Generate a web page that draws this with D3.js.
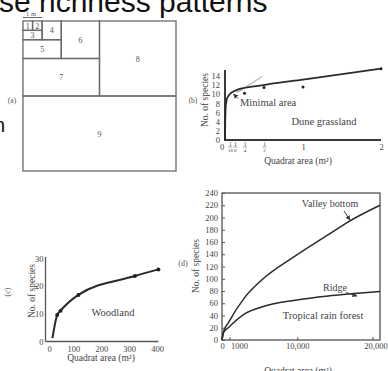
<!DOCTYPE html>
<html><head><meta charset="utf-8">
<script src="https://cdn.jsdelivr.net/npm/d3@7"></script>
<style>html,body{margin:0;padding:0;background:#fff;overflow:hidden}svg{display:block}</style>
</head><body>
<svg id="c" width="388" height="371"></svg>
<script>
// ---------- data ----------
const titleText = "se richness patterns";
const sideText = "n";

const quadratIds = [1, 2, 3, 4, 5, 6, 7, 8, 9];
const quadratX = [0, 1, 0, 2, 0, 4, 0, 8, 0];
const quadratY = [0, 0, 1, 0, 2, 0, 4, 0, 8];
const quadratW = [1, 1, 2, 2, 4, 4, 8, 8, 16];
const quadratH = [1, 1, 1, 2, 2, 4, 4, 8, 8];

const duneCurveArea = [0, 0.003, 0.01, 0.025, 0.06, 0.15, 0.37, 0.6, 1, 2];
const duneCurveSpecies = [0, 4, 7.5, 9, 10, 10.9, 11.7, 12.3, 13.2, 15.6];
const duneDotArea = [0.25, 0.5, 1, 2];
const duneDotSpecies = [10.2, 11.5, 11.6, 15.6];
const duneTangentArea = [0.155, 0.48];
const duneTangentSpecies = [10.4, 13.9];
const duneYTicks = [0, 2, 4, 6, 8, 10, 12, 14];
const duneXTicks = [0, 0.0625, 0.125, 0.25, 0.5, 1, 2];
const duneXLabels = ["0", "1/16", "1/8", "1/4", "1/2", "1", "2"];

const woodCurveArea = [25, 42, 54, 118, 321, 405];
const woodCurveSpecies = [1.2, 9.6, 11.1, 16.8, 23.6, 26];
const woodDotArea = [42, 54, 118, 321, 405];
const woodDotSpecies = [9.6, 11.1, 16.8, 23.6, 26];
const woodXTicks = [0, 100, 200, 300, 400];
const woodYTicks = [0, 10, 20, 30];

const rfArea = [0, 200, 837, 3057, 5272, 9702, 14130, 16790, 21000];
const valleySpecies = [0, 13, 28, 70, 98, 137, 172, 193, 220];
const ridgeSpecies = [0, 12, 20, 43, 54, 65, 72, 75, 79];
const rfYTicks = [0, 20, 40, 60, 80, 100, 120, 140, 160, 180, 200, 220, 240];
const rfXTicks = [0, 1000, 10000, 20000];
const rfXLabels = ["0", "1000", "10,000", "20,000"];

// ---------- drawing ----------
const svg = d3.select("#c");
const SERIF = "'Liberation Serif','DejaVu Serif',serif";
const INK = "#3a3a3a";
const TXT = "#444";

svg.append("defs").append("marker")
  .attr("id", "arr").attr("viewBox", "0 0 10 10").attr("refX", 9).attr("refY", 5)
  .attr("markerWidth", 5).attr("markerHeight", 5).attr("orient", "auto")
  .append("path").attr("d", "M0,0 L10,5 L0,10 z").attr("fill", INK);

function txt(x, y, s, size, opts = {}) {
  const t = svg.append("text").attr("x", x).attr("y", y).text(s)
    .attr("font-family", opts.family || SERIF).attr("font-size", size)
    .attr("fill", opts.fill || TXT).attr("text-anchor", opts.anchor || "middle");
  if (opts.rotate) t.attr("transform", `rotate(-90,${x},${y})`);
  return t;
}

// title fragment (cut off at top) and side fragment
txt(-1, 11.5, titleText, 30, {family: "'Liberation Sans',Arial,sans-serif", fill: "#111", anchor: "start"});
txt(5, 132, sideText, 20, {family: "'Liberation Sans',Arial,sans-serif", fill: "#111", anchor: "end"});

// ---- (a) quadrats ----
const qx = d3.scaleLinear([0, 16], [23, 176]);
const qy = d3.scaleLinear([0, 16], [21, 171]);
const qa = svg.append("g");
quadratIds.forEach((id, i) => {
  qa.append("rect")
    .attr("x", qx(quadratX[i])).attr("y", qy(quadratY[i]))
    .attr("width", qx(quadratW[i]) - qx(0)).attr("height", qy(quadratH[i]) - qy(0))
    .attr("fill", "none").attr("stroke", "#6a6a6a").attr("stroke-width", 1.3);
});
quadratIds.forEach((id, i) => {
  txt(qx(quadratX[i] + quadratW[i] / 2), qy(quadratY[i] + quadratH[i] / 2) + 3, String(id), 8, {fill: "#555"});
});
qa.append("line").attr("x1", qx(0)).attr("x2", qx(2)).attr("y1", 17.5).attr("y2", 17.5)
  .attr("stroke", "#666").attr("stroke-width", 1);
txt(31, 15.5, "1 m", 6.5, {fill: "#555"});
txt(12, 103, "(a)", 7.5, {fill: "#555"});

// ---- (b) dune grassland ----
const bx = d3.scaleLinear([0, 2], [225, 381]);
const by = d3.scaleLinear([0, 15.3], [140, 70]);
const gb = svg.append("g");
gb.append("line").attr("x1", bx(0)).attr("x2", bx(0)).attr("y1", by(0)).attr("y2", by(15.3))
  .attr("stroke", INK).attr("stroke-width", 2);
gb.append("line").attr("x1", bx(0) - 1).attr("x2", bx(2)).attr("y1", by(0)).attr("y2", by(0))
  .attr("stroke", INK).attr("stroke-width", 2);
const bya = gb.append("g").attr("transform", `translate(${bx(0)},0)`)
  .call(d3.axisLeft(by).tickValues(duneYTicks).tickSize(0).tickPadding(5));
bya.select(".domain").remove();
bya.selectAll("text").attr("font-family", SERIF).attr("font-size", 8.5).attr("fill", TXT);
const bxa = gb.append("g").attr("transform", `translate(0,${by(0)})`)
  .call(d3.axisBottom(bx).tickValues(duneXTicks).tickSize(0).tickPadding(4)
    .tickFormat((d, i) => duneXLabels[i]));
bxa.select(".domain").remove();
bxa.selectAll(".tick").each(function (d, i) {
  const lab = duneXLabels[i];
  const t = d3.select(this).select("text");
  t.attr("font-family", SERIF).attr("font-size", 8.5).attr("fill", TXT);
  if (lab === "0") t.attr("x", -3.5);
  if (lab.includes("/")) {
    t.remove();
    const [n, dd] = lab.split("/");
    const g = d3.select(this);
    g.append("text").attr("y", 5.8).attr("text-anchor", "middle").text(n)
      .attr("font-family", SERIF).attr("font-size", 5.5).attr("fill", TXT);
    g.append("line").attr("x1", -2).attr("x2", 2).attr("y1", 7).attr("y2", 7)
      .attr("stroke", TXT).attr("stroke-width", 0.5);
    g.append("text").attr("y", 11.8).attr("text-anchor", "middle").text(dd)
      .attr("font-family", SERIF).attr("font-size", 5).attr("fill", TXT);
  }
});
// tangent
gb.append("line")
  .attr("x1", bx(duneTangentArea[0])).attr("y1", by(duneTangentSpecies[0]))
  .attr("x2", bx(duneTangentArea[1])).attr("y2", by(duneTangentSpecies[1]))
  .attr("stroke", "#aaa").attr("stroke-width", 1.1);
// curve
gb.append("path")
  .attr("d", d3.line().x(d => bx(d[0])).y(d => by(d[1])).curve(d3.curveMonotoneX)(d3.zip(duneCurveArea, duneCurveSpecies)))
  .attr("fill", "none").attr("stroke", "#2a2a2a").attr("stroke-width", 1.8);
gb.selectAll("circle.dot").data(d3.zip(duneDotArea, duneDotSpecies)).join("circle")
  .attr("cx", d => bx(d[0])).attr("cy", d => by(d[1])).attr("r", 1.5).attr("fill", "#222");
// arrow
gb.append("line").attr("x1", 238).attr("y1", 98.5).attr("x2", 233.5).attr("y2", 94)
  .attr("stroke", INK).attr("stroke-width", 1).attr("marker-end", "url(#arr)");
txt(240, 105.5, "Minimal area", 10.5, {anchor: "start"});
txt(324, 125, "Dune grassland", 10.5);
txt(298, 164, "Quadrat area (m²)", 9.5);
txt(207.5, 100, "No. of species", 9.5, {rotate: true});
txt(193, 103, "(b)", 7.5, {fill: "#555"});

// ---- (c) woodland ----
const cx = d3.scaleLinear([0, 400], [45.5, 157]);
const cy = d3.scaleLinear([0, 30], [341.5, 258.3]);
const gc = svg.append("g");
gc.append("line").attr("x1", cx(0)).attr("x2", cx(0)).attr("y1", cy(0)).attr("y2", cy(30.5))
  .attr("stroke", "#555").attr("stroke-width", 1.3);
gc.append("line").attr("x1", cx(0)).attr("x2", cx(405)).attr("y1", cy(0)).attr("y2", cy(0))
  .attr("stroke", "#555").attr("stroke-width", 1.3);
const cya = gc.append("g").attr("transform", `translate(${cx(0)},0)`)
  .call(d3.axisLeft(cy).tickValues(woodYTicks).tickSize(0).tickPadding(2));
cya.select(".domain").remove();
cya.selectAll("text").attr("font-family", SERIF).attr("font-size", 8.5).attr("fill", TXT);
const cxa = gc.append("g").attr("transform", `translate(0,${cy(0)})`)
  .call(d3.axisBottom(cx).tickValues(woodXTicks).tickSize(0).tickPadding(4));
cxa.select(".domain").remove();
cxa.selectAll("text").attr("font-family", SERIF).attr("font-size", 8.5).attr("fill", TXT);
cxa.selectAll(".tick").filter(d => d === 0).select("text").attr("x", 3.5);
gc.append("path")
  .attr("d", d3.line().x(d => cx(d[0])).y(d => cy(d[1])).curve(d3.curveMonotoneX)(d3.zip(woodCurveArea, woodCurveSpecies)))
  .attr("fill", "none").attr("stroke", "#2a2a2a").attr("stroke-width", 2);
gc.selectAll("circle.dot").data(d3.zip(woodDotArea, woodDotSpecies)).join("circle")
  .attr("cx", d => cx(d[0])).attr("cy", d => cy(d[1])).attr("r", 2).attr("fill", "#222");
txt(113, 316, "Woodland", 10.5);
txt(101, 361, "Quadrat area (m²)", 9.5);
txt(34.5, 291, "No. of species", 9.5, {rotate: true});
txt(10, 292, "(c)", 8, {rotate: true, fill: "#555"});

// ---- (d) tropical rain forest ----
const dx = d3.scaleLinear([0, 21000], [222, 380]);
const dy = d3.scaleLinear([0, 240], [340, 193]);
const gd = svg.append("g");
gd.append("rect").attr("x", dx(0)).attr("y", dy(240)).attr("width", dx(21000) - dx(0))
  .attr("height", dy(0) - dy(240)).attr("fill", "none").attr("stroke", "#444").attr("stroke-width", 1.2);
const dya = gd.append("g").attr("transform", `translate(${dx(0)},0)`)
  .call(d3.axisLeft(dy).tickValues(rfYTicks).tickSize(-3).tickPadding(4));
dya.select(".domain").remove();
dya.selectAll("line").attr("stroke", "#555");
dya.selectAll("text").attr("font-family", SERIF).attr("font-size", 8.5).attr("fill", TXT);
const dxa = gd.append("g").attr("transform", `translate(0,${dy(0)})`)
  .call(d3.axisBottom(dx).tickValues(rfXTicks).tickSize(-3).tickPadding(3)
    .tickFormat((d, i) => rfXLabels[i]));
dxa.select(".domain").remove();
dxa.selectAll("line").attr("stroke", "#555");
dxa.selectAll("text").attr("font-family", SERIF).attr("font-size", 8.5).attr("fill", TXT);
dxa.selectAll(".tick").filter(d => d === 1000).select("text").attr("text-anchor", "start").attr("x", 1);
dxa.selectAll(".tick").filter(d => d === 20000).select("text").attr("x", 3);
const dline = d3.line().x(d => dx(d[0])).y(d => dy(d[1])).curve(d3.curveMonotoneX);
gd.append("path").attr("d", dline(d3.zip(rfArea, valleySpecies)))
  .attr("fill", "none").attr("stroke", "#2a2a2a").attr("stroke-width", 1.5);
gd.append("path").attr("d", dline(d3.zip(rfArea, ridgeSpecies)))
  .attr("fill", "none").attr("stroke", "#2a2a2a").attr("stroke-width", 1.5);
txt(330, 207, "Valley bottom", 10);
gd.append("line").attr("x1", 344).attr("y1", 211).attr("x2", 350).attr("y2", 220)
  .attr("stroke", INK).attr("stroke-width", 1).attr("marker-end", "url(#arr)");
txt(335, 291, "Ridge", 10);
gd.append("line").attr("x1", 346).attr("y1", 292.5).attr("x2", 357).attr("y2", 296)
  .attr("stroke", INK).attr("stroke-width", 1).attr("marker-end", "url(#arr)");
txt(323, 319, "Tropical rain forest", 10.5);
txt(298, 373.5, "Quadrat area (m²)", 9.5);
txt(198.5, 266, "No. of species", 9.5, {rotate: true});
txt(183, 266, "(d)", 8, {fill: "#555"});
</script>
</body></html>
